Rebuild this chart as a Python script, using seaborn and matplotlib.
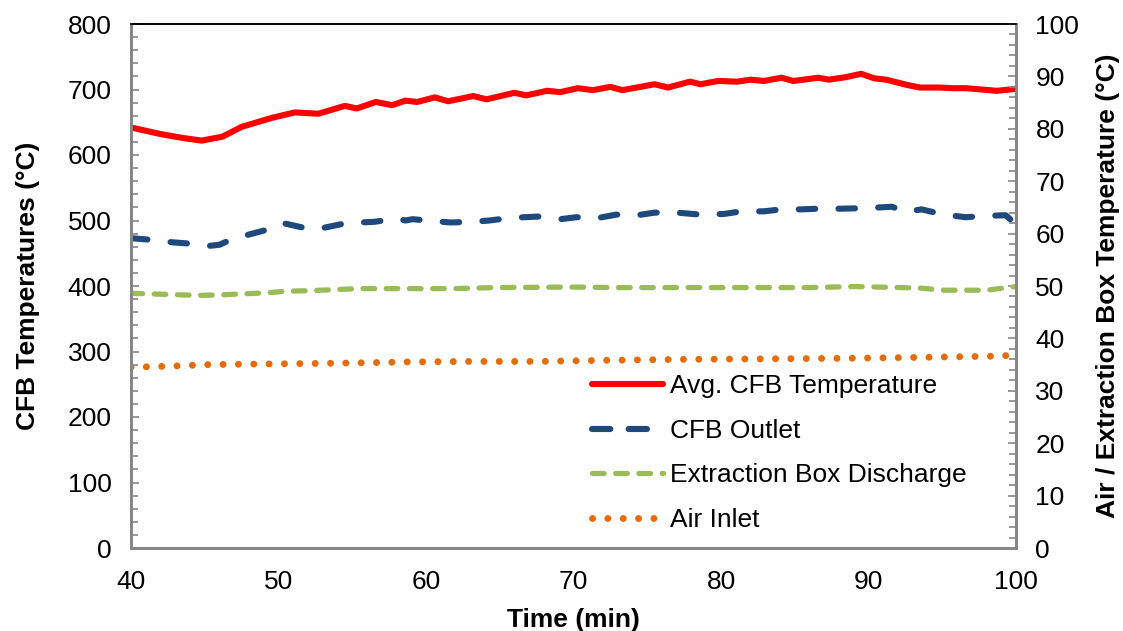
import matplotlib
matplotlib.use("Agg")
import matplotlib.pyplot as plt
from matplotlib.ticker import AutoMinorLocator, MultipleLocator
from matplotlib.lines import Line2D
import seaborn as sns
import pandas as pd

# ---------------- data ----------------
avg_time = [40.0, 42.0, 43.5, 44.8, 46.2, 47.5, 49.6, 51.1, 52.7, 54.5, 55.3, 56.6,
            57.7, 58.6, 59.4, 60.6, 61.5, 63.2, 64.1, 66.0, 66.8, 68.2, 69.1, 70.3,
            71.3, 72.5, 73.3, 75.5, 76.4, 77.9, 78.6, 79.8, 81.1, 82.0, 82.9, 84.1,
            84.9, 86.6, 87.3, 88.5, 89.5, 90.4, 91.2, 92.6, 93.5, 94.8, 95.7, 96.6,
            98.7, 100.0]
avg_temp = [642, 632, 626, 622, 628, 643, 657, 665, 663, 675, 671, 681,
            676, 683, 681, 688, 682, 690, 685, 695, 691, 698, 696, 702,
            699, 704, 699, 708, 703, 712, 708, 713, 712, 715, 713, 718,
            713, 718, 715, 719, 724, 717, 715, 707, 703, 703, 702, 702,
            698, 701]

out_time = [40.0, 41.1, 42.1, 43.8, 45.2, 46.0, 46.9, 47.9, 49.4, 50.3, 51.9, 53.1,
            54.6, 56.5, 58.0, 58.6, 59.1, 60.5, 61.7, 63.1, 64.3, 65.7, 67.6, 69.1,
            70.2, 71.7, 72.9, 74.3, 75.5, 77.0, 78.6, 80.2, 81.4, 82.9, 84.1, 85.4,
            86.6, 88.1, 89.9, 91.6, 92.5, 93.6, 95.1, 96.6, 97.8, 99.3, 99.8, 100.0]
out_temp = [473, 471, 468, 465, 461, 463, 472, 478, 487, 496, 488, 489,
            496, 498, 503, 500, 502, 499, 497, 498, 500, 504, 506, 502,
            505, 504, 509, 508, 512, 512, 509, 510, 514, 514, 517, 517,
            518, 518, 519, 521, 513, 517, 509, 505, 507, 508, 498, 506]

ext_time = [40.0, 42.5, 44.5, 46.0, 47.6, 49.2, 50.5, 52.1, 53.7, 55.5, 57.3, 61.8,
            64.8, 69.8, 73.1, 80.0, 86.0, 89.0, 92.2, 93.5, 95.1, 96.6, 98.0, 100.0]
ext_temp = [48.6, 48.4, 48.2, 48.3, 48.5, 48.7, 49.0, 49.1, 49.3, 49.5, 49.5, 49.5,
            49.7, 49.8, 49.7, 49.7, 49.7, 49.9, 49.7, 49.6, 49.2, 49.2, 49.2, 49.9]

air_time = [40.0, 42.6, 45.3, 48.5, 51.7, 54.8, 58.6, 62.9, 67.5, 71.8, 77.3, 83.1,
            88.5, 94.0, 98.3, 100.0]
air_temp = [34.5, 34.7, 35.0, 35.1, 35.2, 35.3, 35.5, 35.6, 35.6, 35.8, 36.0, 36.1,
            36.2, 36.4, 36.6, 36.8]

labels = ["Avg. CFB Temperature", "CFB Outlet", "Extraction Box Discharge", "Air Inlet"]
x_label = "Time (min)"
y_left_label = "CFB Temperatures (°C)"
y_right_label = "Air / Extraction Box Temperature (°C)"

# ---------------- styling ----------------
sns.set_style("white")
plt.rcParams["font.family"] = ["Liberation Sans", "DejaVu Sans"]
plt.rcParams["text.color"] = "black"
plt.rcParams["axes.labelcolor"] = "black"
FS = 19

RED = "#FF0000"
BLUE = "#1F497D"
GREEN = "#9BBB59"
ORANGE = "#E46C0A"
SPINE = "#868686"

fig = plt.figure(figsize=(11.23, 6.31), dpi=100)
ax = fig.add_axes([131 / 1123, 83 / 631, 885 / 1123, 524 / 631])
ax2 = ax.twinx()

df_avg = pd.DataFrame({"t": avg_time, "v": avg_temp})
df_out = pd.DataFrame({"t": out_time, "v": out_temp})
df_ext = pd.DataFrame({"t": ext_time, "v": ext_temp})
df_air = pd.DataFrame({"t": air_time, "v": air_temp})

sns.lineplot(data=df_avg, x="t", y="v", ax=ax, color=RED, lw=4.4,
             solid_capstyle="round", solid_joinstyle="round", sort=False)
sns.lineplot(data=df_out, x="t", y="v", ax=ax, color=BLUE, lw=4.4,
             linestyle=(0, (2.7, 3.8)), dash_capstyle="round", sort=False)
sns.lineplot(data=df_ext, x="t", y="v", ax=ax2, color=GREEN, lw=3.8,
             linestyle=(0, (2.2, 2.2)), dash_capstyle="round", sort=False)
sns.lineplot(data=df_air, x="t", y="v", ax=ax2, color=ORANGE, lw=5.0,
             linestyle=(0, (0.01, 2.2)), dash_capstyle="round", sort=False)

ax.set_xlim(40, 100)
ax.set_ylim(0, 800)
ax2.set_ylim(0, 100)
ax.xaxis.set_major_locator(MultipleLocator(10))
ax.xaxis.set_minor_locator(AutoMinorLocator(5))
ax.yaxis.set_major_locator(MultipleLocator(100))
ax.yaxis.set_minor_locator(AutoMinorLocator(5))
ax2.yaxis.set_major_locator(MultipleLocator(10))
ax2.yaxis.set_minor_locator(AutoMinorLocator(5))

for a in (ax, ax2):
    a.tick_params(which="both", direction="in", color=SPINE, labelsize=FS,
                  labelcolor="black")
    a.tick_params(which="major", length=6, width=1.2)
    a.tick_params(which="minor", length=5, width=1.2)
    for side in ("left", "right", "bottom"):
        a.spines[side].set_color(SPINE)
        a.spines[side].set_linewidth(2)
    a.spines["top"].set_color("black")
    a.spines["top"].set_linewidth(1.2)

ax.tick_params(axis="x", which="major", pad=16)
ax.tick_params(axis="y", which="major", pad=14)
ax2.tick_params(axis="y", which="major", pad=14)

ax.set_xlabel(x_label, fontsize=FS, fontweight="bold", color="black", labelpad=10)
ax.set_ylabel(y_left_label, fontsize=FS, fontweight="bold", color="black", labelpad=20)
ax2.set_ylabel(y_right_label, fontsize=FS, fontweight="bold", color="black", labelpad=12)

handles = [
    Line2D([], [], color=RED, lw=4.4, solid_capstyle="round"),
    Line2D([], [], color=BLUE, lw=4.4, linestyle=(0, (3.0, 3.0)), dash_capstyle="round"),
    Line2D([], [], color=GREEN, lw=3.8, linestyle=(0, (2.2, 2.2)), dash_capstyle="round"),
    Line2D([], [], color=ORANGE, lw=5.0, linestyle=(0, (0.01, 2.2)), dash_capstyle="round"),
]
for a in (ax, ax2):
    lg = a.get_legend()
    if lg is not None:
        lg.remove()
ax2.legend(handles, labels, loc="center left", bbox_to_anchor=(0.521, 0.181),
           frameon=False, fontsize=FS, handlelength=2.7, handletextpad=0.25,
           labelspacing=0.78, borderpad=0, borderaxespad=0)

fig.savefig("out.png", dpi=100)
